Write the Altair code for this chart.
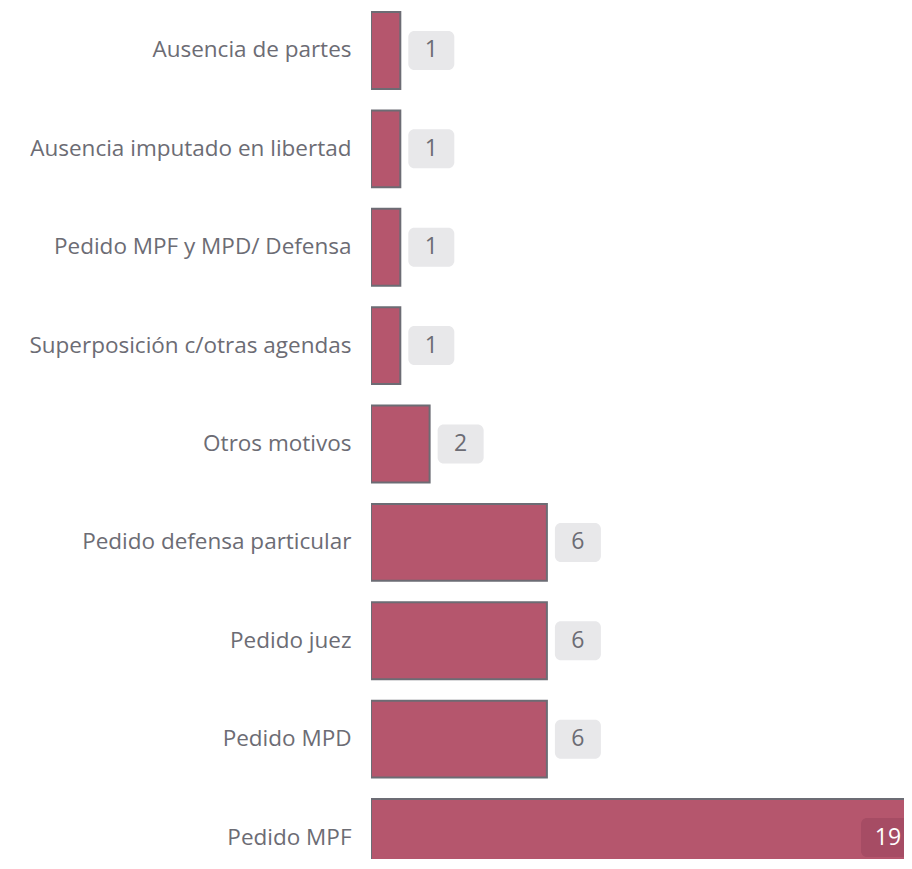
import altair as alt
import pandas as pd

categories = [
    "Ausencia de partes",
    "Ausencia imputado en libertad",
    "Pedido MPF y MPD/ Defensa",
    "Superposición c/otras agendas",
    "Otros motivos",
    "Pedido defensa particular",
    "Pedido juez",
    "Pedido MPD",
    "Pedido MPF",
]
values = [1, 1, 1, 1, 2, 6, 6, 6, 19]

df = pd.DataFrame({"cat": categories, "val": values})
df["inside"] = df["val"] >= 10

FONT = "Open Sans"
GRAY = "#6c6c74"

y_enc = alt.Y(
    "cat:N",
    sort=categories,
    title=None,
    scale=alt.Scale(paddingInner=0.2175, paddingOuter=0.0407, range=[0, 872]),
    axis=alt.Axis(
        domain=False, ticks=False, labelPadding=20, labelFontSize=22.5,
        labelFont=FONT, labelColor=GRAY, labelLimit=400,
    ),
)
x_scale = alt.Scale(domain=[0, 19], nice=False, zero=True, range=[0, 557])
x_enc = alt.X("val:Q", scale=x_scale, axis=None, title=None)

base = alt.Chart(df)

bars = base.mark_bar(color="#b5566d", stroke=GRAY, strokeWidth=2, clip=True).encode(
    y=y_enc, x=x_enc
)

outside = base.transform_filter("!datum.inside")
inside = base.transform_filter("datum.inside")

box_out = outside.mark_bar(
    color="#e8e8ea", cornerRadius=6, height=39, xOffset=8, x2Offset=54, clip=True
).encode(y=y_enc, x=x_enc, x2="val:Q")
txt_out = outside.mark_text(
    dx=31, align="center", baseline="middle", fontSize=23, font=FONT, color=GRAY
).encode(y=y_enc, x=x_enc, text="val:Q")

box_in = inside.mark_bar(
    color="#a64c64", cornerRadius=6, height=39, xOffset=-67, x2Offset=-8, clip=True
).encode(y=y_enc, x=x_enc, x2="val:Q")
txt_in = inside.mark_text(
    dx=-40, align="center", baseline="middle", fontSize=23, font=FONT, color="white"
).encode(y=y_enc, x=x_enc, text="val:Q")

chart = (
    alt.layer(bars, box_out, txt_out, box_in, txt_in)
    .properties(
        width=533,
        height=851,
        padding={"left": 363, "top": 0, "right": 0, "bottom": 0},
        autosize=alt.AutoSizeParams(type="none"),
    )
    .configure_view(stroke=None)
)

chart.save("out.html", embed_options={"renderer": "svg", "actions": False})
